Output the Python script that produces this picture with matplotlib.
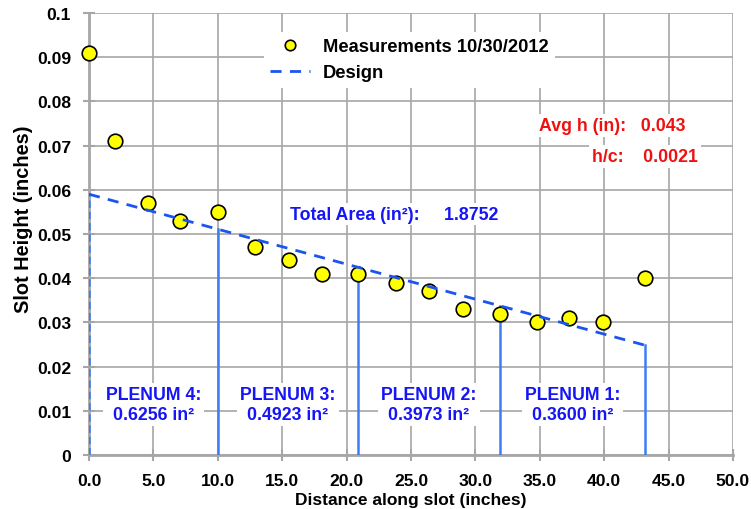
import numpy as np
import matplotlib.pyplot as plt

plt.rcParams['font.family'] = ['Liberation Sans', 'DejaVu Sans']
plt.rcParams['font.weight'] = 'bold'

# Measured slot heights
dist = [0.0, 2.0, 4.6, 7.1, 10.0, 12.9, 15.5, 18.1, 20.9, 23.8, 26.4, 29.0, 31.9, 34.8, 37.3, 39.9, 43.2]
height = [0.091, 0.071, 0.057, 0.053, 0.055, 0.047, 0.044, 0.041, 0.041, 0.039, 0.037, 0.033, 0.032, 0.030, 0.031, 0.030, 0.040]

# Design line (linear taper)
design_x = [0.0, 43.2]
design_y = [0.059, 0.0248]

# Plenum boundaries
plenum_edges = [0.0, 10.0, 20.9, 31.9, 43.2]
plenum_names = ['PLENUM 4:', 'PLENUM 3:', 'PLENUM 2:', 'PLENUM 1:']
plenum_areas = ['0.6256', '0.4923', '0.3973', '0.3600']

total_area = '1.8752'
avg_h = '0.043'
h_over_c = '0.0021'

blue_txt = '#1515f5'
line_blue = '#3d7ff2'
grid_col = '#a6a6a6'

fig = plt.figure(figsize=(7.51, 5.10), dpi=100)
ax = fig.add_axes([0.1185, 0.106, 0.8575, 0.8665])

ax.set_xlim(0, 50)
ax.set_ylim(0, 0.1)
ax.set_xticks(np.arange(0, 50.1, 5))
ax.set_yticks(np.arange(0, 0.101, 0.01))
ax.set_xticklabels([f'{v:.1f}' for v in np.arange(0, 50.1, 5)])
ax.set_yticklabels(['0'] + [f'{v:.2f}' for v in np.arange(0.01, 0.095, 0.01)] + ['0.1'])
ax.grid(True, color=grid_col, linewidth=1.2, zorder=0)
ax.set_axisbelow(True)
for s in ['top', 'right']:
    ax.spines[s].set_visible(False)
for s in ['left', 'bottom']:
    ax.spines[s].set_color(grid_col)
    ax.spines[s].set_linewidth(2)
ax.tick_params(direction='inout', length=9, width=1.5, color=grid_col,
               labelsize=12.6, pad=8.5)
for lab in ax.get_xticklabels() + ax.get_yticklabels():
    lab.set_fontweight('bold')

# vertical plenum boundaries up to design line
slope = (design_y[1] - design_y[0]) / (design_x[1] - design_x[0])
for i, xe in enumerate(plenum_edges):
    top = design_y[0] + slope * xe
    ls = (0, (3, 1.5)) if i == 0 else '-'
    ax.plot([xe, xe], [0, top], color=line_blue, linewidth=1.8, linestyle=ls, zorder=3)

ax.plot(dist, height, linestyle='none', marker='o', markersize=10.5,
        markerfacecolor='#ffff00', markeredgecolor='black', markeredgewidth=1.2,
        label='Measurements 10/30/2012', zorder=4, clip_on=False)
ax.plot(design_x, design_y, color='#1a55f0', linestyle=(0, (4, 3)), linewidth=2,
        label='Design', zorder=5)

leg = ax.legend(loc='upper left', bbox_to_anchor=(0.257, 0.978), frameon=True,
                handlelength=2.2, handletextpad=0.7, borderpad=0.35, labelspacing=0.5,
                markerscale=0.72, prop={'weight': 'bold', 'size': 13.2})
leg.get_frame().set_edgecolor('none')
leg.get_frame().set_facecolor('white')
leg.get_frame().set_alpha(1)

box = dict(facecolor='white', edgecolor='none', pad=2)
ax.text(31.75, 0.0545, 'Total Area (in²):     ' + total_area, color=blue_txt,
        fontsize=12.8, fontweight='bold', va='center', ha='right', bbox=box, zorder=6)
ax.text(46.35, 0.0746, 'Avg h (in):   ' + avg_h, color='#ee1111', fontsize=12.8,
        fontweight='bold', va='center', ha='right', bbox=box, zorder=6)
ax.text(47.28, 0.0676, 'h/c:    ' + h_over_c, color='#ee1111', fontsize=12.8,
        fontweight='bold', va='center', ha='right', bbox=box, zorder=6)

for i in range(4):
    xc = (plenum_edges[i] + plenum_edges[i + 1]) / 2
    ax.text(xc, 0.01143, plenum_names[i] + '\n' + plenum_areas[i] + ' in²',
            color=blue_txt, fontsize=12.8, fontweight='bold', ha='center', va='center',
            linespacing=1.25, bbox=box, zorder=6)

ax.set_xlabel('Distance along slot (inches)', fontsize=12.5, fontweight='bold')
ax.set_ylabel('Slot Height (inches)', fontsize=14.4, fontweight='bold')
ax.xaxis.set_label_coords(0.5, -0.084)
ax.yaxis.set_label_coords(-0.087, 0.536)

fig.savefig('out.png', dpi=100)
